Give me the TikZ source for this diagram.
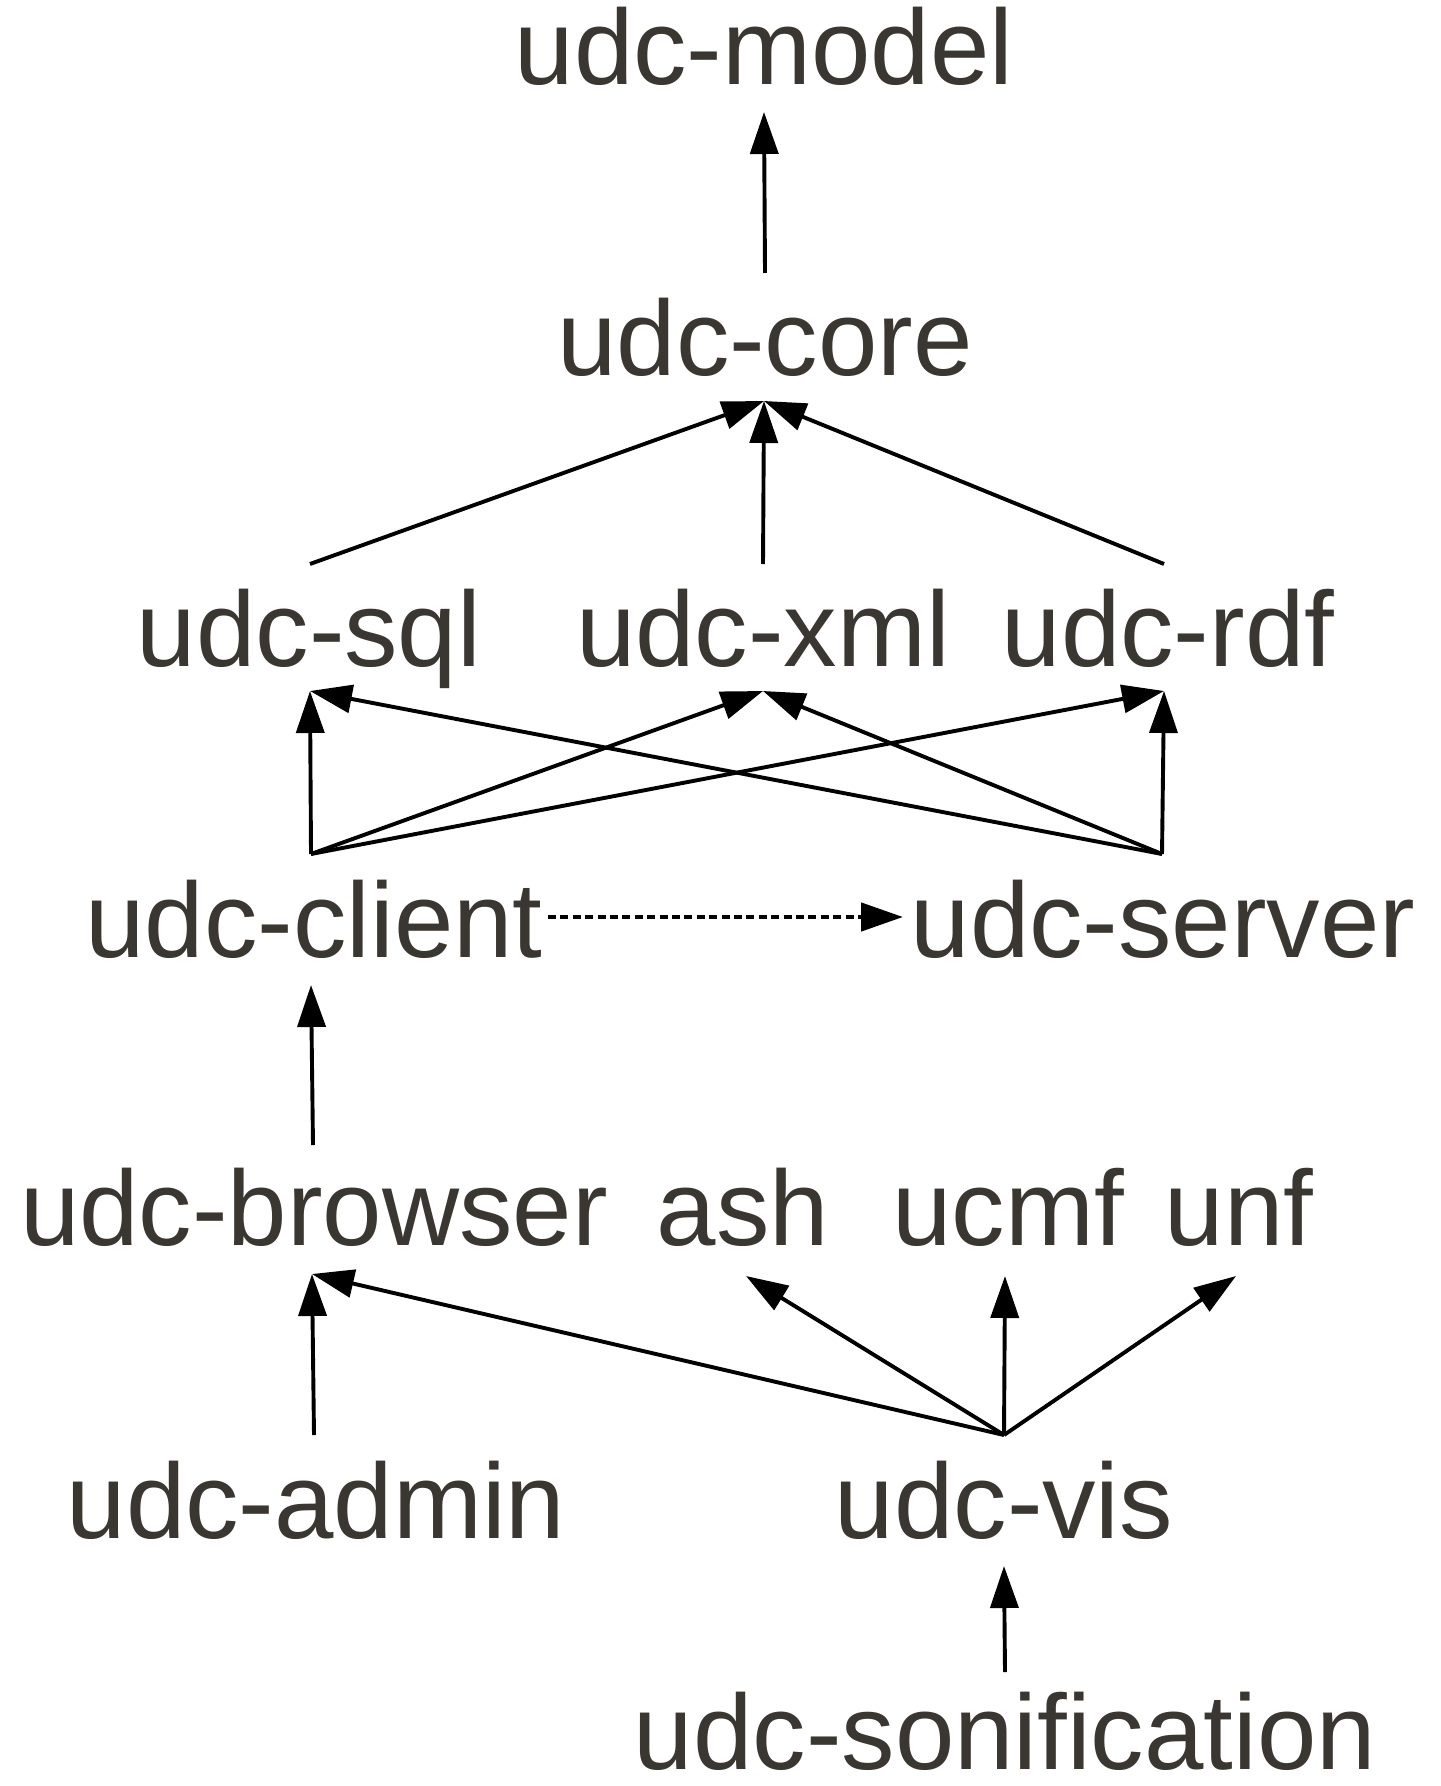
\documentclass[tikz,border=0pt]{standalone}
\usepackage{fontspec}
\setmainfont{Liberation Sans}
\usetikzlibrary{arrows.meta}
\definecolor{txt}{RGB}{58,54,50}
\begin{document}
\begin{tikzpicture}[x=0.5pt,y=-0.5pt,
  lbl/.style={anchor=base,inner sep=0pt,text=txt,font=\fontsize{53.4}{60}\selectfont},
  dep/.style={line width=1.95pt,-{Triangle[length=21pt,width=14pt]}},
  opt/.style={line width=2.3pt,dash pattern=on 4pt off 2.2pt,-{Triangle[length=21pt,width=14pt]}}]
\useasboundingbox (0,0) rectangle (1440,1786);
% labels
\node[lbl] (model) at (764,85) {udc-model};
\node[lbl] (core) at (765,376) {udc-core};
\node[lbl] (sql) at (309,666) {udc-sql};
\node[lbl] (xml) at (763,666) {udc-xml};
\node[lbl] (rdf) at (1168,666) {udc-rdf};
\node[lbl] (client) at (314,957) {udc-client};
\node[lbl] (server) at (1163,957) {udc-server};
\node[lbl] (browser) at (314,1245) {udc-browser};
\node[lbl] (ash) at (743,1245) {ash};
\node[lbl] (ucmf) at (1008,1245) {ucmf};
\node[lbl] (unf) at (1239,1245) {unf};
\node[lbl] (admin) at (316,1538) {udc-admin};
\node[lbl] (vis) at (1004,1538) {udc-vis};
\node[lbl] (sonif) at (1005,1769) {udc-sonification};
% ports
\coordinate (model-in) at (764,112);
\coordinate (core-out) at (765,273);
\coordinate (core-in) at (764,401);
\coordinate (sql-out) at (310,564);
\coordinate (xml-out) at (763,564);
\coordinate (rdf-out) at (1164,564);
\coordinate (sql-in) at (310,691);
\coordinate (xml-in) at (763,691);
\coordinate (rdf-in) at (1164,691);
\coordinate (client-out) at (311,854);
\coordinate (server-out) at (1162,854);
\coordinate (client-r) at (548,917);
\coordinate (server-l) at (903,917);
\coordinate (client-in) at (311,985);
\coordinate (browser-out) at (313,1145);
\coordinate (browser-in) at (312,1274);
\coordinate (ash-in) at (746,1276);
\coordinate (ucmf-in) at (1005,1276);
\coordinate (unf-in) at (1236,1276);
\coordinate (admin-out) at (314,1435);
\coordinate (vis-out) at (1004,1435);
\coordinate (vis-in) at (1004,1566);
\coordinate (sonif-out) at (1005,1672);
% connectors
\draw[dep] (core-out) -- (model-in);
\draw[dep] (sql-out) -- (core-in);
\draw[dep] (xml-out) -- (core-in);
\draw[dep] (rdf-out) -- (core-in);
\draw[dep] (client-out) -- (sql-in);
\draw[dep] (client-out) -- (xml-in);
\draw[dep] (client-out) -- (rdf-in);
\draw[dep] (server-out) -- (sql-in);
\draw[dep] (server-out) -- (xml-in);
\draw[dep] (server-out) -- (rdf-in);
\draw[opt] (client-r) -- (server-l);
\draw[dep] (browser-out) -- (client-in);
\draw[dep] (admin-out) -- (browser-in);
\draw[dep] (vis-out) -- (browser-in);
\draw[dep] (vis-out) -- (ash-in);
\draw[dep] (vis-out) -- (ucmf-in);
\draw[dep] (vis-out) -- (unf-in);
\draw[dep] (sonif-out) -- (vis-in);
\end{tikzpicture}
\end{document}
